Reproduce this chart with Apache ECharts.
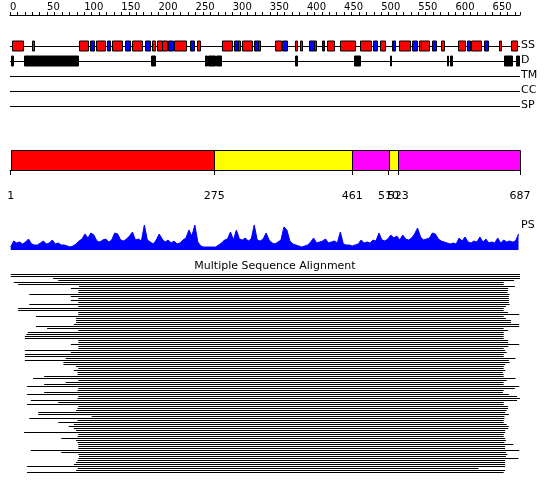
<!DOCTYPE html>
<html>
<head>
<meta charset="utf-8">
<script src="https://cdn.jsdelivr.net/npm/echarts@6/dist/echarts.min.js"></script>
<style>
html,body{margin:0;padding:0;background:#fff;}
#chart{width:550px;height:495px;}
</style>
</head>
<body>
<div id="chart"></div>
<script>
// ---- data ----
const seqLength = 687;
const trackNames = ['SS', 'D', 'TM', 'CC', 'SP'];

// secondary structure: H = helix (red), E = strand (blue)
const ssStart = [3,29,93,108,116,131,138,155,164,182,191,198,205,213,221,242,252,285,302,307,312,329,334,357,367,384,391,403,409,420,427,444,472,489,498,514,524,542,551,554,569,581,604,615,621,638,659,675];
const ssEnd   = [18,33,105,113,128,135,151,161,178,188,195,205,212,219,237,248,256,299,307,310,326,334,337,365,373,387,394,409,412,423,437,465,486,495,505,518,539,548,554,565,574,584,613,619,634,644,662,683];
const ssType  = ['H','H','H','E','H','E','H','E','H','E','H','H','H','E','H','E','H','H','E','H','H','E','H','H','E','H','H','E','H','E','H','H','H','E','H','E','H','E','H','H','E','H','H','E','H','E','H','H'];

// disorder segments
const dStart = [1,19,190,263,267,277,384,463,512,588,593,666,682];
const dEnd   = [4,91,195,265,276,284,387,471,513,590,596,676,686];

// domain architecture
const domStart = [1,275,461,510,523];
const domEnd   = [275,461,510,523,687];
const domClass = ['A','B','C','B','C'];
const domTicks = [1,275,461,510,523,687];

// PS profile, one value every 4 residues starting at residue 1
const psFirst = 1, psStep = 4;
const psValues = [3,9,7,8,6,8,11,6,5,5, 7,9,6,7,10,6,7,5,5,4, 3,4,6,9,11,16,12,17,15,9, 8,10,11,8,10,17,16,10,9,11,
  14,18,10,11,9,25,10,8,6,10, 16,11,8,10,7,9,6,7,10,12, 20,14,25,8,4,3,3,3,3,3, 5,7,10,11,18,10,20,11,10,12,
  9,11,25,10,9,11,17,10,7,6, 8,10,23,20,9,6,5,4,3,4, 5,8,12,7,8,9,11,7,8,9, 7,18,6,5,5,4,5,6,10,7,
  8,7,10,9,17,10,9,11,15,12, 14,10,15,11,10,12,16,22,13,10, 11,12,17,16,11,9,8,7,6,7, 6,12,9,13,8,7,9,8,13,8,
  11,7,8,7,12,7,10,8,9,8, 9,16];

// multiple sequence alignment: aligned span of each sequence (residues)
const msaStart = [1,1,58,65,5,11,93,82,92,92, 26,82,92,82,92,26,92,11,11,92, 92,35,89,89,89,86,35,50,92,24,
  22,20,20,92,92,82,92,92,20,82, 20,20,75,20,72,72,89,92,
  86,91,91,46,31,92,75,46,23,92, 91,46,23,92,91,28,65,23,92,91, 89,38,38,110,26,91,65,86,79,86,
  89,19,92,91,69,89,91,92,92,92, 28,69,92,93,92,91,89,86,23,91, 89,23];
const msaEnd = [687,687,687,679,665,665,680,671,671,670, 673,672,672,672,672,673,668,665,665,671,
  686,665,668,675,675,686,686,665,671,665, 665,665,665,671,671,686,671,665,667,669,
  665,665,681,672,673,667,665,665,667,664, 665,665,681,669,665,665,686,680,665,664,
  672,683,687,683,665,665,671,671,669,667, 672,666,666,665,665,669,672,671,667,667,
  665,665,667,668,666,678,667,667,686,668, 670,668,685,667,667,667,667,631,667,665];

// ---- styles ----
const FONT = 'DejaVu Sans';
const ssColors = {H: '#ff0000', E: '#0000ff'};
const domColors = {A: '#ff0000', B: '#ffff00', C: '#ff00ff'};

const chart = echarts.init(document.getElementById('chart'), null, {renderer: 'canvas'});

function boxRenderer(trackIdx, colorFn, h) {
  return function (params, api) {
    const p0 = api.coord([api.value(0), trackIdx]);
    const p1 = api.coord([api.value(1), trackIdx]);
    const x = Math.round(p0[0]) + 0.5;
    const w = Math.max(1, Math.round(p1[0]) - Math.round(p0[0]));
    const y = Math.round(p0[1] - h / 2);
    return {type: 'rect', shape: {x: x, y: y, width: w, height: h},
      style: {fill: colorFn(api.value(2)), stroke: '#000', lineWidth: 1}};
  };
}

const option = {
  animation: false,
  backgroundColor: '#fff',
  textStyle: {fontFamily: FONT},
  title: {text: 'Multiple Sequence Alignment', left: 'center', top: 256,
    textStyle: {fontSize: 11, fontWeight: 'normal', color: '#000', fontFamily: FONT}},
  graphic: [{type: 'text', left: 521, top: 220, style: {text: 'PS', fontSize: 11, fill: '#000', fontFamily: FONT}}],
  grid: [
    {left: 10, width: 510, top: 38, height: 75, outerBoundsMode: 'none', containLabel: false},
    {left: 10, width: 510, top: 150, height: 20, outerBoundsMode: 'none', containLabel: false},
    {left: 10, width: 510, top: 225, height: 25, outerBoundsMode: 'none', containLabel: false},
    {left: 10, width: 510, top: 273.5, height: 200, outerBoundsMode: 'none', containLabel: false}
  ],
  xAxis: [
    {gridIndex: 0, type: 'value', min: 0, max: seqLength, interval: 10, position: 'top', offset: 23,
      axisLine: {show: true, lineStyle: {color: '#000', width: 1}},
      axisTick: {show: true, length: 3, lineStyle: {color: '#000'}},
      axisLabel: {show: true, fontSize: 10, color: '#000', margin: 3, align: 'left', fontFamily: FONT,
        formatter: v => (v % 50 === 0 ? String(v) : '')},
      splitLine: {show: false}},
    {gridIndex: 1, type: 'value', min: 0, max: seqLength, position: 'bottom', offset: 10,
      axisLine: {show: true, lineStyle: {color: '#000', width: 1}},
      axisTick: {show: true, length: 5, customValues: domTicks, lineStyle: {color: '#000'}},
      axisLabel: {show: true, customValues: domTicks, fontSize: 11, color: '#000', margin: 11, fontFamily: FONT},
      splitLine: {show: false}},
    {gridIndex: 2, type: 'value', min: 0, max: seqLength, show: false},
    {gridIndex: 3, type: 'value', min: 0, max: seqLength, show: false}
  ],
  yAxis: [
    {gridIndex: 0, type: 'category', data: trackNames, inverse: true, position: 'right',
      axisLine: {show: false}, axisTick: {show: false}, splitLine: {show: false},
      axisLabel: {margin: 1, fontSize: 11, color: '#000', fontFamily: FONT}},
    {gridIndex: 1, type: 'value', min: 0, max: 1, show: false},
    {gridIndex: 2, type: 'value', min: 0, max: 25, show: false},
    {gridIndex: 3, type: 'value', min: -0.5, max: 99.5, inverse: true, show: false}
  ],
  series: [
    // track baselines
    {type: 'custom', xAxisIndex: 0, yAxisIndex: 0, clip: false,
      data: trackNames.map((n, i) => [i]),
      renderItem: function (params, api) {
        const i = api.value(0);
        const p0 = api.coord([0, i]);
        const p1 = api.coord([seqLength, i]);
        const y = Math.round(p0[1]) + 0.5;
        return {type: 'line', shape: {x1: p0[0], y1: y, x2: p1[0], y2: y},
          style: {stroke: '#000', lineWidth: 1}};
      }},
    // secondary structure
    {type: 'custom', xAxisIndex: 0, yAxisIndex: 0, clip: false,
      encode: {x: [0, 1]},
      data: ssStart.map((s, i) => [s, ssEnd[i], ssType[i] === 'H' ? 0 : 1]),
      renderItem: boxRenderer(0, v => (v === 0 ? ssColors.H : ssColors.E), 10)},
    // disorder
    {type: 'custom', xAxisIndex: 0, yAxisIndex: 0, clip: false,
      encode: {x: [0, 1]},
      data: dStart.map((s, i) => [s, dEnd[i], 0]),
      renderItem: boxRenderer(1, () => '#000', 10)},
    // domains
    {type: 'custom', xAxisIndex: 1, yAxisIndex: 1, clip: false,
      encode: {x: [0, 1]},
      data: domStart.map((s, i) => [s, domEnd[i], i]),
      renderItem: function (params, api) {
        const p0 = api.coord([api.value(0), 1]);
        const p1 = api.coord([api.value(1), 0]);
        const x = Math.round(p0[0]) + 0.5;
        const w = Math.round(p1[0]) - Math.round(p0[0]);
        return {type: 'rect', shape: {x: x, y: Math.round(p0[1]) + 0.5, width: w, height: Math.round(p1[1] - p0[1])},
          style: {fill: domColors[domClass[api.value(2)]], stroke: '#000', lineWidth: 1}};
      }},
    // PS profile
    {type: 'line', xAxisIndex: 2, yAxisIndex: 2, showSymbol: false, silent: true,
      data: psValues.map((v, i) => [psFirst + i * psStep, v]),
      lineStyle: {color: '#0000ff', width: 1}, itemStyle: {color: '#0000ff'},
      areaStyle: {color: '#0000ff', opacity: 1}},
    // MSA
    {type: 'custom', xAxisIndex: 3, yAxisIndex: 3, clip: false,
      encode: {x: [1, 2], y: 0},
      data: msaStart.map((s, k) => [k, s, msaEnd[k]]),
      renderItem: function (params, api) {
        const k = api.value(0);
        const p0 = api.coord([api.value(1), k]);
        const p1 = api.coord([api.value(2), k]);
        const y = Math.floor(p0[1]) + 0.5;
        return {type: 'line', shape: {x1: p0[0], y1: y, x2: p1[0], y2: y},
          style: {stroke: '#000', lineWidth: 1}};
      }}
  ]
};
chart.setOption(option);
</script>
</body>
</html>
